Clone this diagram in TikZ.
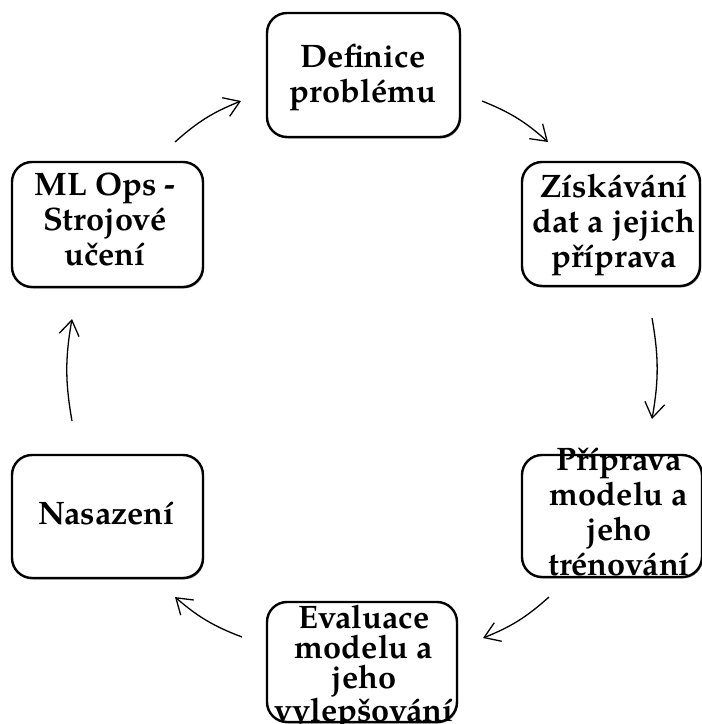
\documentclass[tikz,border=0pt]{standalone}
\usepackage{fontspec}
\setmainfont{TeX Gyre Pagella}
\usetikzlibrary{arrows.meta,shadows}
\begin{document}
\begin{tikzpicture}[x=1pt,y=1pt,
  box/.style={draw, line width=2.4pt, rounded corners=20pt, fill=white, inner sep=0pt,
    drop shadow={shadow xshift=1pt, shadow yshift=-1.5pt, fill=black!45, opacity=1}},
  lbl/.style={font=\fontsize{32.5}{35}\selectfont\bfseries, align=center, inner sep=0pt},
  arr/.style={line width=1.3pt, -{Straight Barb[length=15pt,width=20pt,line width=1.3pt]}}]
\useasboundingbox (0,0) rectangle (702,-724);

% boxes
\node[box, minimum width=193pt, minimum height=124pt] (b1) at (363.5,-75) {};
\node[box, minimum width=178pt, minimum height=124pt] (b2) at (611,-224) {};
\node[box, minimum width=180pt, minimum height=122pt] (b4) at (612,-516) {};
\node[box, minimum width=190pt, minimum height=120pt] (b5) at (362,-662) {};
\node[box, minimum width=191pt, minimum height=123pt] (b6) at (107.5,-516.5) {};
\node[box, minimum width=191pt, minimum height=125pt] (b3) at (107.5,-224.5) {};

% labels
\node[lbl] (t1) at (363,-77.4) {Definice\\problému};
\node[lbl] (t2) at (614,-224.7) {Získávání\\dat a jejich\\příprava};
\node[lbl] (t4) at (619,-512) {Příprava\\modelu a\\jeho\\trénování};
\node[lbl, font=\fontsize{32.5}{30}\selectfont\bfseries] (t5) at (364,-668) {Evaluace\\modelu a\\jeho\\vylepšování};
\node[lbl] (t6) at (106.5,-514) {Nasazení};
\node[lbl] (t3) at (105,-219) {ML Ops -\\Strojové\\učení};

% arrow end points
\coordinate (a1s) at (175,-142); \coordinate (a1e) at (241,-101);
\coordinate (a2s) at (482,-101); \coordinate (a2e) at (548,-142);
\coordinate (a3s) at (652,-318); \coordinate (a3e) at (652,-419);
\coordinate (a4s) at (549,-597); \coordinate (a4e) at (483,-638);
\coordinate (a5s) at (242,-637); \coordinate (a5e) at (175,-597);
\coordinate (a6s) at (72,-421);  \coordinate (a6e) at (72,-319);

\draw[arr] (a1s) to[bend left=10] (a1e);
\draw[arr] (a2s) to[bend left=10] (a2e);
\draw[arr] (a3s) to[bend left=10] (a3e);
\draw[arr] (a4s) to[bend left=10] (a4e);
\draw[arr] (a5s) to[bend left=10] (a5e);
\draw[arr] (a6s) to[bend left=10] (a6e);
\end{tikzpicture}
\end{document}
